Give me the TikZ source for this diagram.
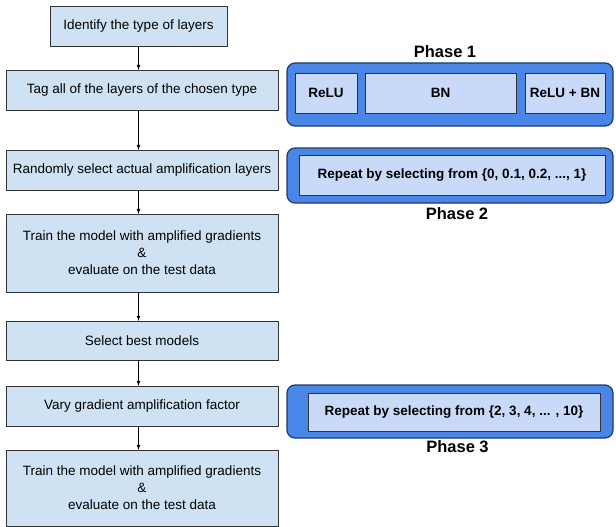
\documentclass[tikz,border=0pt]{standalone}
\usepackage{fontspec}
\setmainfont{Liberation Sans}
\definecolor{stepfill}{HTML}{CFE2F3}
\definecolor{panelfill}{HTML}{4A86E8}
\definecolor{panelline}{HTML}{1F3A68}
\definecolor{optfill}{HTML}{C9DAF8}
\definecolor{boxline}{HTML}{333333}

\begin{document}
\begin{tikzpicture}[x=1pt,y=-1pt,
    stepbox/.style={draw=boxline, fill=stepfill, line width=.8pt, inner sep=0pt,
      outer sep=0pt, align=center, font=\fontsize{13.5}{17}\selectfont, minimum height=40pt},
    panel/.style={draw=panelline, fill=panelfill, line width=1.2pt, rounded corners=8pt},
    optbox/.style={draw=boxline, fill=optfill, line width=.8pt, inner sep=0pt,
      outer sep=0pt, font=\fontsize{13.5}{16}\selectfont\bfseries, minimum height=40pt},
    phase/.style={font=\fontsize{16.5}{18}\selectfont\bfseries, anchor=base, inner sep=0pt}]
  \useasboundingbox (0,0) rectangle (616,527);
  % flow of steps
  \node [stepbox, minimum width=177pt] (identify) at (138.5,26) {Identify the type of layers};
  \node [stepbox, minimum width=272pt] (tag) at (142,90) {Tag all of the layers of the chosen type};
  \node [stepbox, minimum width=272pt] (random) at (142,170) {Randomly select actual amplification layers};
  \node [stepbox, minimum width=272pt, minimum height=78pt] (train) at (142,253)
    {Train the model with amplified gradients\\\&\\evaluate on the test data};
  \node [stepbox, minimum width=272pt, minimum height=39pt] (best) at (142,340.5) {Select best models};
  \node [stepbox, minimum width=272pt] (vary) at (142,406) {Vary gradient amplification factor};
  \node [stepbox, minimum width=272pt, minimum height=76pt] (retrain) at (142,488)
    {Train the model with amplified gradients\\\&\\evaluate on the test data};
  \draw [line width=.8pt, -latex] (identify) -- (identify |- tag.north);
  \draw [line width=.8pt, -latex] (identify |- tag.south) -- (identify |- random.north);
  \draw [line width=.8pt, -latex] (identify |- random.south) -- (identify |- train.north);
  \draw [line width=.8pt, -latex] (identify |- train.south) -- (identify |- best.north);
  \draw [line width=.8pt, -latex] (identify |- best.south) -- (identify |- vary.north);
  \draw [line width=.8pt, -latex] (identify |- vary.south) -- (identify |- retrain.north);
  % phase 1
  \draw [panel] (287,63) rectangle (613,126);
  \node [optbox, minimum width=62pt] (relu) at (326,93) {ReLU};
  \node [optbox, minimum width=151pt] (bn) at (440.5,93) {BN};
  \node [optbox, minimum width=80pt] (relubn) at (565,93) {ReLU + BN};
  \node [phase] (phaseone) at (445,58) {Phase 1};
  % phase 2
  \draw [panel] (287,148) rectangle (613,203);
  \node [optbox, minimum width=306pt] (ratio) at (452,175) {Repeat by selecting from \{0, 0.1, 0.2, ..., 1\}};
  \node [phase] (phasetwo) at (457,219) {Phase 2};
  % phase 3
  \draw [panel] (287,385) rectangle (613,438);
  \node [optbox, minimum width=292pt, minimum height=38pt] (factor) at (454,412) {Repeat by selecting from \{2, 3, 4, ... , 10\}};
  \node [phase] (phasethree) at (457.5,452) {Phase 3};
\end{tikzpicture}
\end{document}
